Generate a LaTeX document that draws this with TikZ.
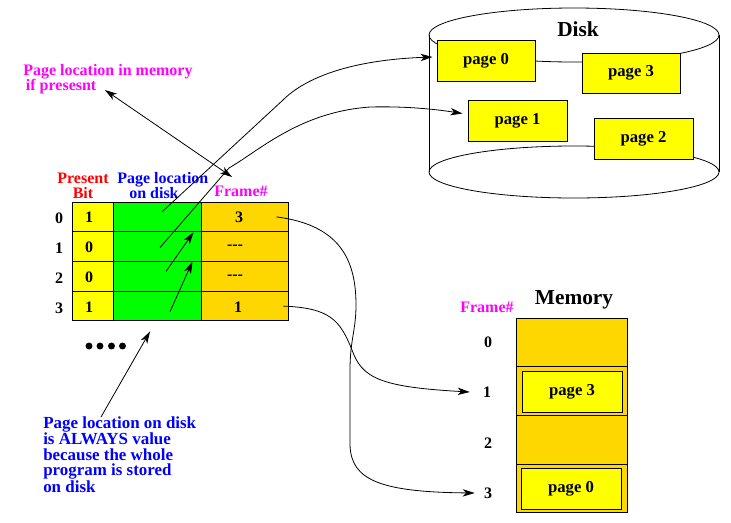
\documentclass[tikz,border=0pt]{standalone}
\usepackage{fontspec}
\setmainfont{Liberation Serif}
\usetikzlibrary{arrows.meta}
\definecolor{yel}{HTML}{FFFF00}
\definecolor{grn}{HTML}{00FF00}
\definecolor{gld}{HTML}{FFD700}
\definecolor{mag}{HTML}{FF00FF}
\definecolor{blu}{HTML}{0000FF}
\definecolor{rd}{HTML}{FF0000}
\begin{document}
\begin{tikzpicture}[x=0.75pt,y=-0.75pt,
  every node/.style={inner sep=0pt, font=\bfseries\fontsize{12}{11.3}\selectfont},
  cellbox/.style={draw, line width=0.75pt, minimum height=22.3pt},
  pagebox/.style={draw, line width=0.75pt, fill=yel, minimum width=73.5pt, minimum height=30.75pt, font=\bfseries\fontsize{12.5}{14}\selectfont},
  conn/.style={line width=0.6pt},
  arr/.style={conn, -{Stealth[length=9pt,width=5.5pt,inset=2.5pt]}},
  arrs/.style={conn, {Stealth[length=9pt,width=5.5pt,inset=2.5pt]}-{Stealth[length=9pt,width=5.5pt,inset=2.5pt]}},
  ann/.style={font=\bfseries\fontsize{12}{11.3}\selectfont},
  big/.style={font=\bfseries\fontsize{16}{18}\selectfont},
  dot/.style={circle, fill, minimum size=5.2pt}
]
\useasboundingbox (0,0) rectangle (731,522);

% ---------- Disk cylinder ----------
\coordinate (dtop) at (574,35);
\coordinate (dbot) at (574,172);
\draw[conn] (dbot) ellipse [x radius=108.75pt, y radius=19.5pt];
\draw[conn] ([xshift=-108.75pt]dtop) -- ([xshift=-108.75pt]dbot);
\draw[conn] ([xshift=108.75pt]dtop) -- ([xshift=108.75pt]dbot);
\draw[conn] (dtop) ellipse [x radius=108.75pt, y radius=20.25pt];
\node[big] (disk) at (578,29) {Disk};
\node[pagebox] (p0) at (486,60.5) {page 0};
\node[pagebox, minimum height=30pt] (p3) at (631,73) {page 3};
\node[pagebox, minimum width=74.25pt] (p1) at (517.5,120.5) {page 1};
\node[pagebox, minimum width=74.25pt] (p2) at (643.5,138.5) {page 2};

% ---------- Page table ----------
\node[cellbox, fill=yel, minimum width=30.75pt] (b0) at (92.5,216.9) {};
\node[cellbox, fill=grn, minimum width=66pt] (g0) at (157,216.9) {};
\node[cellbox, fill=gld, minimum width=65.25pt] (f0) at (244.5,216.9) {};
\node[cellbox, fill=yel, minimum width=30.75pt] (b1) at (92.5,246.6) {};
\node[cellbox, fill=grn, minimum width=66pt] (g1) at (157,246.6) {};
\node[cellbox, fill=gld, minimum width=65.25pt] (f1) at (244.5,246.6) {};
\node[cellbox, fill=yel, minimum width=30.75pt] (b2) at (92.5,276.4) {};
\node[cellbox, fill=grn, minimum width=66pt] (g2) at (157,276.4) {};
\node[cellbox, fill=gld, minimum width=65.25pt] (f2) at (244.5,276.4) {};
\node[cellbox, fill=yel, minimum width=30.75pt] (b3) at (92.5,306.1) {};
\node[cellbox, fill=grn, minimum width=66pt] (g3) at (157,306.1) {};
\node[cellbox, fill=gld, minimum width=65.25pt] (f3) at (244.5,306.1) {};

\node (vb0) at (89,217.5) {1};
\node (vb1) at (89,247.5) {0};
\node (vb2) at (89,277.5) {0};
\node (vb3) at (89,307) {1};
\node (vf0) at (239,217) {3};
\node (vf1) at (235,247) {-{}-{}-};
\node (vf2) at (235,277) {-{}-{}-};
\node (vf3) at (238,307) {1};

\node (r0) at (59,218) {0};
\node (r1) at (59,248) {1};
\node (r2) at (59,278) {2};
\node (r3) at (59,308) {3};

\node[ann, text=rd, align=center] (hbit) at (83,185.5) {Present\\Bit};
\node[ann, text=blu, align=left, anchor=north west] (hloc) at (117,172) {Page location\\\hspace*{9pt}on disk};
\node[ann, text=mag] (hfr) at (241,191) {Frame\#};

\node[dot] (d1) at (89,346) {};
\node[dot] (d2) at (100,346) {};
\node[dot] (d3) at (111.5,346) {};
\node[dot] (d4) at (122.5,346) {};

% ---------- Notes ----------
\node[ann, text=mag, align=left, anchor=north west] (note1) at (23,64) {Page location in memory\\\hspace*{2pt}if presesnt};
\node[ann, text=blu, align=left, anchor=north west, font=\bfseries\fontsize{12.7}{11.4}\selectfont] (note2) at (43,416) {Page location on disk\\is ALWAYS value\\because the whole\\program is stored\\on disk};

% ---------- Memory ----------
\node[big] (memt) at (574,300) {Memory};
\node[ann, text=mag] (mfh) at (487,307) {Frame\#};
\node[cellbox, fill=gld, minimum width=83.25pt, minimum height=36.56pt] (m0) at (571.5,342.4) {};
\node[cellbox, fill=gld, minimum width=83.25pt, minimum height=36.56pt] (m1) at (571.5,391.1) {};
\node[cellbox, fill=gld, minimum width=83.25pt, minimum height=36.56pt] (m2) at (571.5,439.9) {};
\node[cellbox, fill=gld, minimum width=83.25pt, minimum height=36.56pt] (m3) at (571.5,488.6) {};
\node[pagebox, minimum width=75pt] (mp3) at (572,391.5) {page 3};
\node[pagebox, minimum width=75pt] (mp0) at (571,488.5) {page 0};
\node (ml0) at (488,342) {0};
\node (ml1) at (487,392) {1};
\node (ml2) at (488,443) {2};
\node (ml3) at (488,493) {3};

% ---------- Connectors ----------
\coordinate (memptr) at (105,90);
\coordinate (frptr) at (232,177);
\draw[arrs] (memptr) -- (frptr);

\draw[arr] ([shift={(5,-5)}]g0.center) -- (283,100) .. controls (305,78) and (350,60) .. ([shift={(-4,-3.5)}]p0.west);
\draw[arr] ([shift={(3,1)}]g1.center) -- (229,168) .. controls (260,150) and (300,112) .. (370,107) .. controls (410,106) and (440,110) .. ([shift={(-5,-7)}]p1.west);

\draw[arr] ([shift={(9,-5)}]g2.center) -- ([shift={(-8,1)}]g1.north east);
\draw[arr] ([shift={(13,5.5)}]g3.center) -- ([shift={(-9,0.5)}]g2.north east);
\draw[arr] ([shift={(58,1)}]note2.north west) -- ([shift={(-7,10)}]g3.south);

\draw[arr] ([xshift=-9pt]f0.east) .. controls (340,225) and (356,260) .. (356,305) .. controls (356,330) and (350,340) .. (350,370) -- (350,445) .. controls (351,480) and (380,492) .. ([xshift=-6.75pt]ml3.west);
\draw[arr] ([xshift=-3.75pt]f3.east) .. controls (330,308) and (340,320) .. (352,350) .. controls (362,378) and (380,387) .. ([xshift=-9.75pt]ml1.west);
\end{tikzpicture}
\end{document}
